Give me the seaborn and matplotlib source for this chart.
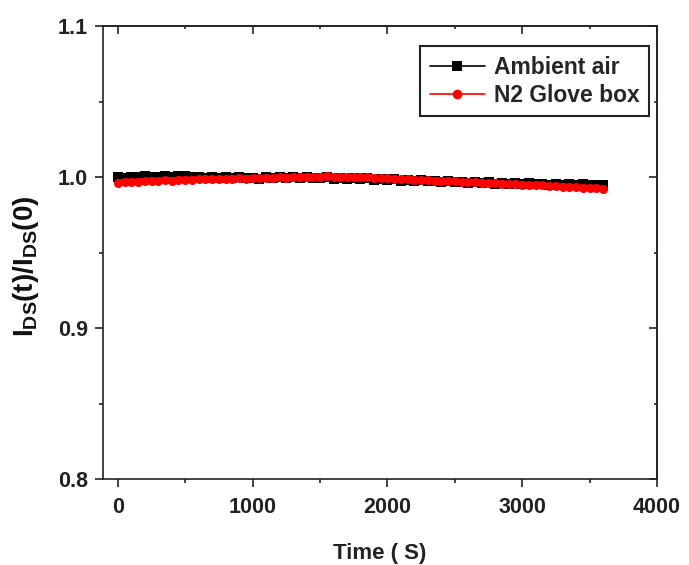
import numpy as np
import pandas as pd
import matplotlib
matplotlib.use("Agg")
import matplotlib.pyplot as plt
import seaborn as sns
from matplotlib.ticker import MultipleLocator

# ---- data ----
time_s = [
    0, 50, 100, 150, 200, 250, 300, 350, 400, 450,
    500, 550, 600, 650, 700, 750, 800, 850, 900, 950,
    1000, 1050, 1100, 1150, 1200, 1250, 1300, 1350, 1400, 1450,
    1500, 1550, 1600, 1650, 1700, 1750, 1800, 1850, 1900, 1950,
    2000, 2050, 2100, 2150, 2200, 2250, 2300, 2350, 2400, 2450,
    2500, 2550, 2600, 2650, 2700, 2750, 2800, 2850, 2900, 2950,
    3000, 3050, 3100, 3150, 3200, 3250, 3300, 3350, 3400, 3450,
    3500, 3550, 3600,
]
ambient_air = [
    1.0000, 0.9995, 1.0003, 0.9998, 1.0004, 1.0001, 0.9997, 1.0005, 1.0002, 1.0008,
    1.0004, 0.9999, 1.0003, 0.9996, 1.0001, 0.9995, 1.0000, 0.9993, 0.9998, 0.9991,
    0.9996, 0.9990, 0.9997, 0.9993, 0.9999, 0.9994, 0.9998, 0.9992, 0.9999, 0.9995,
    0.9993, 0.9998, 0.9989, 0.9996, 0.9990, 0.9994, 0.9986, 0.9991, 0.9983, 0.9988,
    0.9979, 0.9985, 0.9976, 0.9982, 0.9974, 0.9979, 0.9971, 0.9976, 0.9968, 0.9973,
    0.9965, 0.9970, 0.9962, 0.9967, 0.9960, 0.9965, 0.9957, 0.9962, 0.9955, 0.9960,
    0.9953, 0.9958, 0.9951, 0.9956, 0.9949, 0.9954, 0.9948, 0.9953, 0.9947, 0.9952,
    0.9946, 0.9950, 0.9945,
]
n2_glove_box = [
    0.9962, 0.9966, 0.9968, 0.9970, 0.9973, 0.9972, 0.9976, 0.9978, 0.9977, 0.9981,
    0.9983, 0.9982, 0.9985, 0.9984, 0.9987, 0.9986, 0.9989, 0.9988, 0.9991, 0.9990,
    0.9993, 0.9992, 0.9995, 0.9994, 0.9997, 0.9996, 0.9999, 0.9998, 1.0001, 1.0002,
    1.0003, 1.0004, 1.0002, 1.0003, 1.0001, 1.0000, 0.9998, 0.9997, 0.9995, 0.9994,
    0.9991, 0.9989, 0.9987, 0.9985, 0.9983, 0.9981, 0.9979, 0.9977, 0.9975, 0.9973,
    0.9971, 0.9968, 0.9966, 0.9964, 0.9962, 0.9960, 0.9958, 0.9956, 0.9954, 0.9952,
    0.9950, 0.9948, 0.9946, 0.9944, 0.9942, 0.9940, 0.9937, 0.9935, 0.9932, 0.9930,
    0.9927, 0.9925, 0.9922,
]
series_names = ["Ambient air", "N2 Glove box"]
series_colors = ["black", "red"]
series_markers = ["s", "o"]

x_ticks = [0, 1000, 2000, 3000, 4000]
y_ticks = [0.8, 0.9, 1.0, 1.1]

df = pd.DataFrame({
    "time": time_s * 2,
    "value": ambient_air + n2_glove_box,
    "series": [series_names[0]] * len(time_s) + [series_names[1]] * len(time_s),
})

sns.set_style("ticks")
plt.rcParams["font.family"] = ["Liberation Sans", "DejaVu Sans"]
plt.rcParams["font.weight"] = "bold"
plt.rcParams["mathtext.fontset"] = "custom"
plt.rcParams["mathtext.rm"] = "Liberation Sans:bold"
plt.rcParams["mathtext.default"] = "rm"

fig = plt.figure(figsize=(6.89, 5.65), dpi=100)
ax = fig.add_axes([0.1495, 0.152, 0.8041, 0.802])

sns.lineplot(
    data=df, x="time", y="value", hue="series", style="series",
    hue_order=series_names, style_order=series_names,
    palette=series_colors, markers=series_markers, dashes=False,
    markersize=6.5, markeredgewidth=0, linewidth=4.5, legend=False, ax=ax,
)

ax.set_xlim(-110, 4000)
ax.set_ylim(0.8, 1.1)
ax.set_xticks(x_ticks)
ax.set_yticks(y_ticks)
ax.set_xticklabels([str(v) for v in x_ticks])
ax.set_yticklabels([f"{v:.1f}" for v in y_ticks])
ax.xaxis.set_minor_locator(MultipleLocator(500))
ax.yaxis.set_minor_locator(MultipleLocator(0.05))

for s in ax.spines.values():
    s.set_visible(True)
    s.set_linewidth(1.2)
    s.set_color("#222222")

ax.tick_params(which="major", direction="out", length=6, width=1.2,
               labelsize=15.5, colors="#222222", top=False, right=False)
ax.tick_params(axis="x", which="major", pad=7)
ax.tick_params(axis="y", which="major", pad=5)
ax.tick_params(which="minor", direction="out", length=3, width=1.2,
               colors="#222222", top=False, right=False)
for lab in ax.get_xticklabels() + ax.get_yticklabels():
    lab.set_fontweight("bold")
    lab.set_color("#222222")

# inward ticks on top and right
secx = ax.secondary_xaxis("top")
secx.set_xticks(x_ticks)
secx.xaxis.set_minor_locator(MultipleLocator(500))
secx.tick_params(which="major", direction="in", length=6, width=1.2, labeltop=False)
secx.tick_params(which="minor", direction="in", length=2.5, width=1.2)
secx.spines["top"].set_linewidth(1.2)
secy = ax.secondary_yaxis("right")
secy.set_yticks(y_ticks)
secy.yaxis.set_minor_locator(MultipleLocator(0.05))
secy.tick_params(which="major", direction="in", length=6, width=1.2, labelright=False)
secy.tick_params(which="minor", direction="in", length=2.5, width=1.2)
secy.spines["right"].set_linewidth(1.2)

ax.set_xlabel("Time ( S)", fontsize=16, fontweight="bold", labelpad=18, color="#222222")
ax.set_ylabel(r"I$_{DS}$(t)/I$_{DS}$(0)", fontsize=20, fontweight="bold", color="#111111")
ax.yaxis.set_label_coords(-0.112, 0.47)

handles = [
    plt.Line2D([], [], color=c, marker=m, markersize=7, markeredgewidth=0, linewidth=1.2)
    for c, m in zip(series_colors, series_markers)
]
leg = ax.legend(handles, series_names, loc="upper right", bbox_to_anchor=(0.985, 0.955),
                frameon=True, fancybox=False, edgecolor="#222222", framealpha=1,
                prop={"size": 16.5, "weight": "bold"}, handlelength=2.4,
                handletextpad=0.4, borderpad=0.4, labelspacing=0.25,
                borderaxespad=0)
leg.get_frame().set_linewidth(1.5)

fig.savefig("out.png", dpi=100)
